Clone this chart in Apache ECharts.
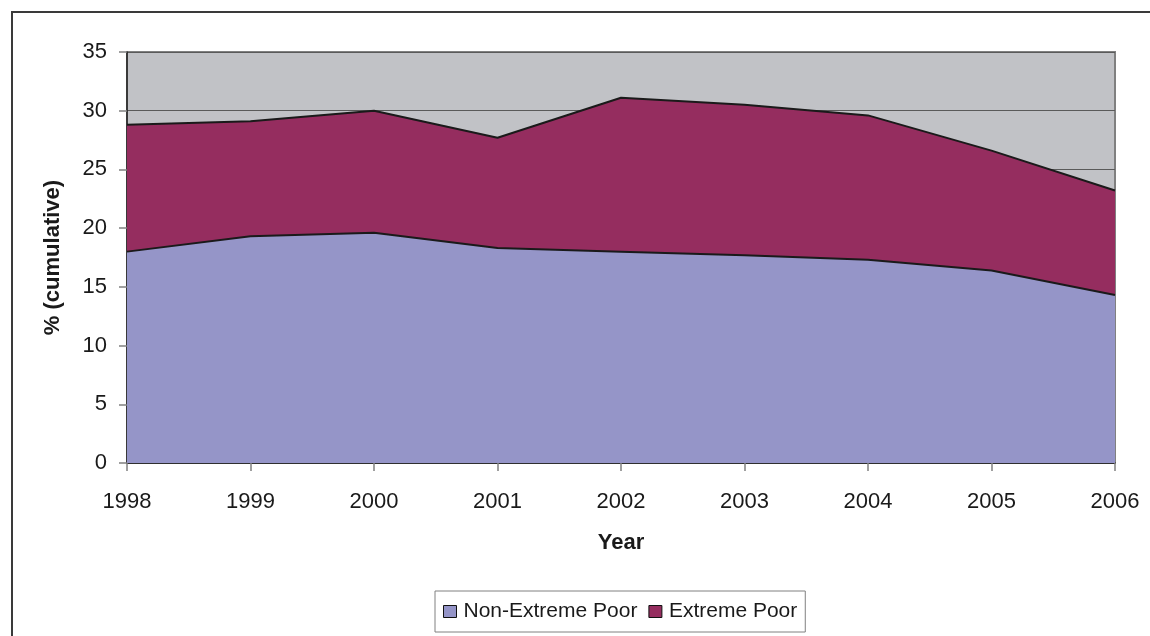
<!DOCTYPE html>
<html>
<head>
<meta charset="utf-8">
<script src="https://cdn.jsdelivr.net/npm/echarts@6/dist/echarts.min.js"></script>
<style>
  html, body { margin: 0; padding: 0; background: #fff; overflow: hidden; }
  #frame { position: absolute; left: 11px; top: 11px; width: 1200px; height: 700px; border: 2px solid #3a3a3a; box-sizing: border-box; }
  #chart { position: absolute; left: 0; top: 0; width: 1150px; height: 636px; }
</style>
</head>
<body>
<div id="frame"></div>
<div id="chart"></div>
<script>
// Years on the horizontal axis
const years = ['1998', '1999', '2000', '2001', '2002', '2003', '2004', '2005', '2006'];
// Share of population (%) in each group; stacked to give the cumulative rate
const nonExtremePoor = [18.0, 19.3, 19.6, 18.3, 18.0, 17.7, 17.3, 16.4, 14.3];
const extremePoor    = [10.8,  9.8, 10.4,  9.4, 13.1, 12.8, 12.3, 10.2,  8.9];

const FONT = '"Liberation Sans", Arial, sans-serif';

const chart = echarts.init(document.getElementById('chart'), null, { renderer: 'canvas' });

chart.setOption({
  animation: false,
  textStyle: { fontFamily: FONT },
  grid: {
    left: 127, right: 35, top: 52, bottom: 173,
    show: true,
    backgroundColor: '#C1C2C6',
    borderColor: '#808080',
    borderWidth: 2
  },
  legend: {
    left: 435, top: 591,
    itemWidth: 13, itemHeight: 12, itemGap: 11,
    icon: 'rect',
    padding: [10, 8, 10, 8],
    borderColor: '#808080', borderWidth: 1,
    backgroundColor: '#fff',
    textStyle: { fontFamily: FONT, fontSize: 21, color: '#1a1a1a', padding: [0, 0, 0, 2] },
    data: [
      { name: 'Non-Extreme Poor', itemStyle: { color: '#9595C8', borderColor: '#111', borderWidth: 1 } },
      { name: 'Extreme Poor', itemStyle: { color: '#952D5F', borderColor: '#111', borderWidth: 1 } }
    ]
  },
  xAxis: {
    type: 'category',
    data: years,
    boundaryGap: false,
    name: 'Year',
    nameLocation: 'middle',
    nameGap: 69,
    nameTextStyle: { fontFamily: FONT, fontSize: 22, fontWeight: 'bold', color: '#1a1a1a' },
    axisLine: { lineStyle: { color: '#222', width: 1.5 } },
    axisTick: { show: true, length: 8, alignWithLabel: true, lineStyle: { color: '#808080', width: 1.5 } },
    axisLabel: { fontFamily: FONT, fontSize: 22, color: '#1a1a1a', margin: 28 },
    splitLine: { show: false }
  },
  yAxis: {
    type: 'value',
    min: 0, max: 35, interval: 5,
    name: '% (cumulative)',
    nameLocation: 'middle',
    nameGap: 63,
    nameTextStyle: { fontFamily: FONT, fontSize: 22, fontWeight: 'bold', color: '#1a1a1a' },
    axisLine: { show: true, lineStyle: { color: '#222', width: 1.5 } },
    axisTick: { show: true, length: 8, lineStyle: { color: '#808080', width: 1.5 } },
    axisLabel: { fontFamily: FONT, fontSize: 22, color: '#1a1a1a', margin: 20 },
    splitLine: { show: true, lineStyle: { color: '#5a5a5a', width: 1 } }
  },
  series: [
    {
      name: 'Non-Extreme Poor',
      type: 'line',
      stack: 'poverty',
      data: nonExtremePoor,
      symbol: 'none',
      lineStyle: { color: '#1a1a1a', width: 2 },
      itemStyle: { color: '#9595C8' },
      areaStyle: { color: '#9595C8', opacity: 1 }
    },
    {
      name: 'Extreme Poor',
      type: 'line',
      stack: 'poverty',
      data: extremePoor,
      symbol: 'none',
      lineStyle: { color: '#1a1a1a', width: 2 },
      itemStyle: { color: '#952D5F' },
      areaStyle: { color: '#952D5F', opacity: 1 }
    }
  ]
});
</script>
</body>
</html>
